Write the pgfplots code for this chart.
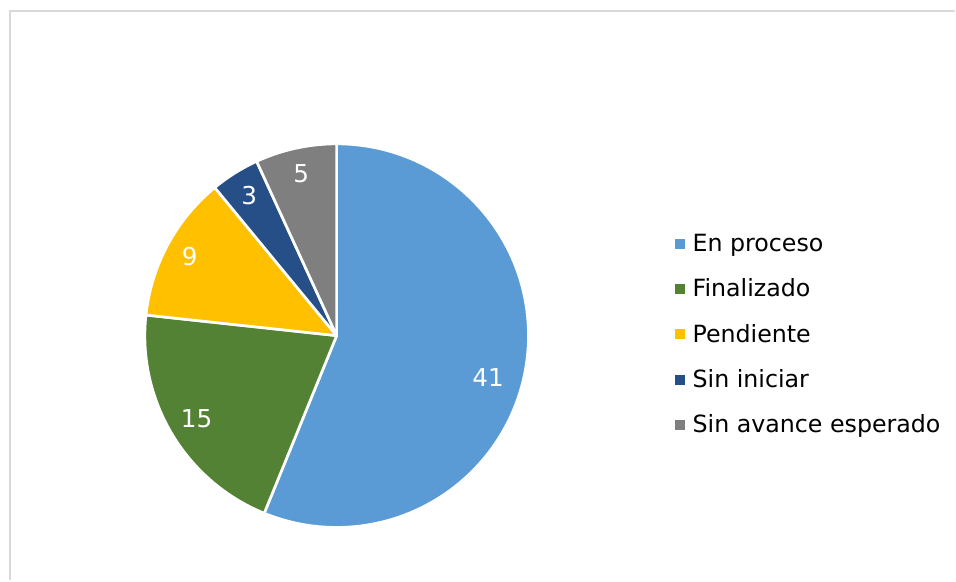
\documentclass[border=0pt]{standalone}
\usepackage{fontspec}
\setmainfont{DejaVu Sans}
\usepackage{pgfplots}
\usepackage{pgfplotstable}
\usetikzlibrary{calc}
\pgfplotsset{compat=1.18}

\definecolor{cA}{HTML}{5B9BD5}
\definecolor{cB}{HTML}{548235}
\definecolor{cC}{HTML}{FFC000}
\definecolor{cD}{HTML}{264F88}
\definecolor{cE}{HTML}{7F7F7F}
\definecolor{frameGray}{HTML}{D9D9D9}

% lr = label distance (fraction of radius), ld = label angle shift
\pgfplotstableread[col sep=semicolon]{
label;value;color;lr;ld
En proceso;41;cA;0.82;-4.5
Finalizado;15;cB;0.85;0
Pendiente;9;cC;0.87;0
Sin iniciar;3;cD;0.86;0
Sin avance esperado;5;cE;0.865;0
}\piedata

% slice angles, computed once from the table
\gdef\pietotal{0}
\pgfplotstableforeachcolumnelement{value}\of\piedata\as\cell{%
  \pgfmathparse{\pietotal+\cell}\xdef\pietotal{\pgfmathresult}}
\pgfplotstablegetrowsof{\piedata}
\pgfmathtruncatemacro\lastrow{\pgfplotsretval-1}
\gdef\piecum{0}
\foreach \i in {0,...,\lastrow}{%
  \pgfplotstablegetelem{\i}{value}\of\piedata \let\val\pgfplotsretval
  \pgfplotstablegetelem{\i}{color}\of\piedata \expandafter\xdef\csname pieC\i\endcsname{\pgfplotsretval}%
  \pgfplotstablegetelem{\i}{lr}\of\piedata \let\lr\pgfplotsretval
  \pgfplotstablegetelem{\i}{ld}\of\piedata \let\ld\pgfplotsretval
  \expandafter\xdef\csname pieV\i\endcsname{\val}%
  \pgfmathsetmacro\sa{90-360*(\piecum/\pietotal)}%
  \pgfmathsetmacro\sb{90-360*((\piecum+\val)/\pietotal)}%
  \pgfmathsetmacro\sm{(\sa+\sb)/2+\ld}%
  \pgfmathsetmacro\sr{144*\lr}%
  \expandafter\xdef\csname pieA\i\endcsname{\sa}%
  \expandafter\xdef\csname pieB\i\endcsname{\sb}%
  \expandafter\xdef\csname pieM\i\endcsname{\sm}%
  \expandafter\xdef\csname pieR\i\endcsname{\sr}%
  \pgfmathparse{\piecum+\val}\xdef\piecum{\pgfmathresult}%
}

\pgfplotsset{
  legend square/.style={
    legend image code/.code={\fill[##1,draw=none] (0pt,-3.75pt) rectangle (7.5pt,3.75pt);}
  }
}

\begin{document}
\begin{tikzpicture}
\begin{axis}[
  scale only axis,
  width=717pt,height=435.75pt,
  xmin=0,xmax=956,ymin=0,ymax=581,
  hide axis,clip=false,
  legend cell align=left,
  legend style={
    at={(0.7071,0.4234)},anchor=west,
    draw=none,fill=none,inner sep=0pt,outer sep=0pt,
    font=\fontsize{17.8}{20}\selectfont,
    row sep=15pt,
    /tikz/every odd column/.append style={column sep=3.5pt},
  },
]
\pgfplotsextra{
  \path (axis cs:0,0) rectangle (axis cs:956,581);
  \draw[frameGray,line width=1.5pt] (axis cs:10,0) -- (axis cs:10,570) -- (axis cs:956,570);
  \foreach \i in {0,...,\lastrow}{
    \edef\col{\csname pieC\i\endcsname}
    \fill[color=\col,draw=white,line width=2pt,line join=round]
      (axis cs:337,245) -- ++(\csname pieA\i\endcsname:144pt)
      arc[start angle=\csname pieA\i\endcsname,end angle=\csname pieB\i\endcsname,radius=144pt] -- cycle;
    \path (axis cs:337,245) ++(\csname pieM\i\endcsname:\csname pieR\i\endcsname pt)
      node[white,font=\fontsize{18.5}{20}\selectfont] {\csname pieV\i\endcsname};
  }
}
\addlegendimage{legend square,fill=cA}\addlegendentry{En proceso}
\addlegendimage{legend square,fill=cB}\addlegendentry{Finalizado}
\addlegendimage{legend square,fill=cC}\addlegendentry{Pendiente}
\addlegendimage{legend square,fill=cD}\addlegendentry{Sin iniciar}
\addlegendimage{legend square,fill=cE}\addlegendentry{Sin avance esperado}
\end{axis}
\end{tikzpicture}
\end{document}
